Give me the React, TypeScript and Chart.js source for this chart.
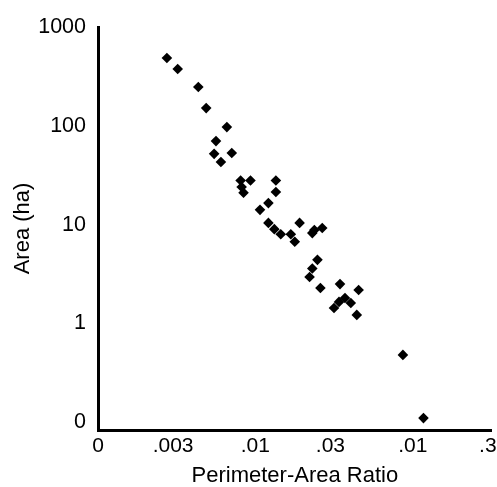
import React, { useEffect, useRef } from 'react';
import { Chart, registerables } from 'chart.js';

Chart.register(...registerables);

const ratio = [
  0.00274, 0.00321, 0.00434, 0.00487, 0.00659, 0.00562, 0.00547, 0.00604, 0.00708,
  0.00806, 0.00931, 0.00841, 0.00818, 0.0135, 0.0135, 0.0121, 0.0107, 0.0121,
  0.0132, 0.0145, 0.0168, 0.0178, 0.0191, 0.023, 0.0237, 0.0266, 0.0248, 0.023,
  0.0221, 0.0259, 0.0345, 0.0453, 0.0371, 0.034, 0.0404, 0.0316, 0.0441, 0.0866, 0.117,
];
const area = [
  485, 376, 247, 151, 97, 70, 52, 43, 53,
  28, 28, 21, 24, 28, 21.4, 16.5, 14.1, 10.4,
  9.0, 8.0, 8.0, 6.7, 10.4, 8.2, 8.8, 9.25, 4.4, 3.6,
  2.95, 2.28, 2.5, 2.18, 1.81, 1.65, 1.61, 1.43, 1.22, 0.48, 0.11,
];
const xTickValues = [0.001, 0.003, 0.01, 0.03, 0.1, 0.3];
const xTickLabels = ['0', '.003', '.01', '.03', '.01', '.3'];
const yTickValues = [0.1, 1, 10, 100, 1000];
const yTickLabels = ['0', '1', '10', '100', '1000'];

const FAMILY = "'Liberation Sans', Arial, sans-serif";

export default function App() {
  const ref = useRef<HTMLCanvasElement | null>(null);
  useEffect(() => {
    if (!ref.current) return;
    const points = ratio.map((r, i) => ({ x: r, y: area[i] }));
    const chart = new Chart(ref.current, {
      type: 'scatter',
      data: {
        datasets: [
          {
            data: points,
            pointStyle: 'rectRot',
            pointRadius: 5.3,
            pointHoverRadius: 5.3,
            backgroundColor: '#000',
            borderColor: '#000',
            borderWidth: 0,
          },
        ],
      },
      options: {
        responsive: false,
        animation: false,
        events: [],
        layout: { padding: { top: 27, left: 0, right: 0, bottom: 0 } },
        plugins: { legend: { display: false }, tooltip: { enabled: false } },
        scales: {
          x: {
            type: 'logarithmic',
            position: 'bottom',
            min: 0.001,
            max: 0.3175,
            grid: { display: false, drawTicks: false },
            border: { display: true, color: '#000', width: 3 },
            afterBuildTicks: (s: any) => {
              s.ticks = xTickValues.map((v) => ({ value: v }));
            },
            afterFit: (s: any) => {
              s.height = 57;
              s.paddingLeft = 0;
              s.paddingRight = 0;
            },
            ticks: {
              autoSkip: false,
              maxRotation: 0,
              minRotation: 0,
              padding: 4,
              color: '#000',
              font: { family: FAMILY, size: 21 },
              callback: (_v: any, i: number) => xTickLabels[i],
            },
            title: {
              display: true,
              text: 'Perimeter-Area Ratio',
              color: '#000',
              font: { family: FAMILY, size: 22, lineHeight: 1 },
              padding: { top: 0, bottom: 0 },
            },
          },
          y: {
            type: 'logarithmic',
            position: 'left',
            min: 0.0834,
            max: 1000,
            grid: { display: false, drawTicks: false },
            border: { display: true, color: '#000', width: 3 },
            afterBuildTicks: (s: any) => {
              s.ticks = yTickValues.map((v) => ({ value: v }));
            },
            afterFit: (s: any) => {
              s.width = 98;
              s.paddingTop = 0;
              s.paddingBottom = 0;
            },
            ticks: {
              autoSkip: false,
              padding: 12,
              color: '#000',
              font: { family: FAMILY, size: 21.5 },
              callback: (_v: any, i: number) => yTickLabels[i],
            },
            title: {
              display: true,
              text: 'Area (ha)',
              color: '#000',
              font: { family: FAMILY, size: 22, lineHeight: 1 },
              padding: { top: 12, bottom: 0 },
            },
          },
        },
      },
    });
    return () => chart.destroy();
  }, []);
  return (
    <div style={{ position: 'fixed', left: 0, top: 0, width: 497, height: 487, background: '#fff' }}>
      <canvas ref={ref} width={497} height={487} style={{ display: 'block', width: 497, height: 487 }} />
    </div>
  );
}
